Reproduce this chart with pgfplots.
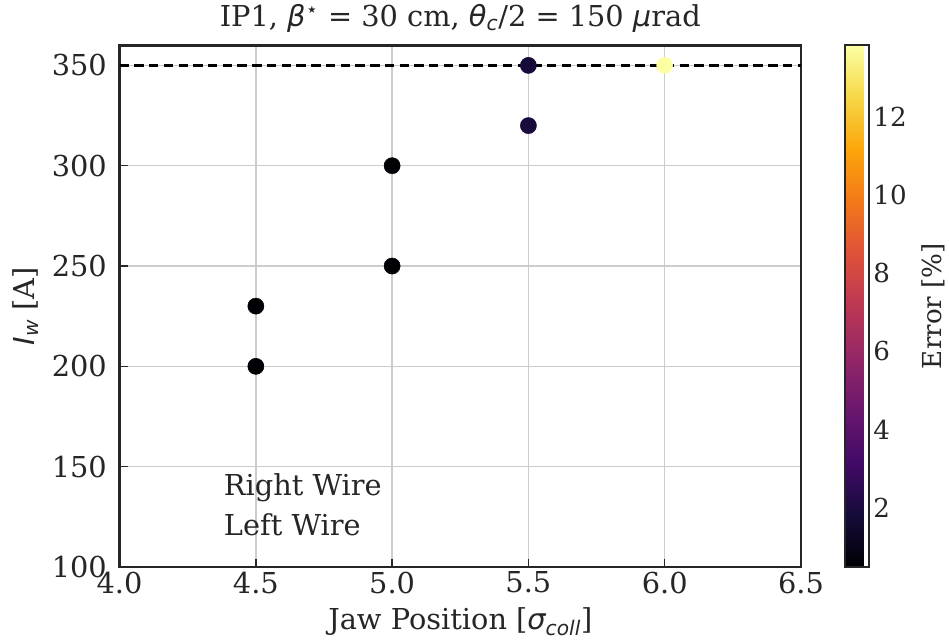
\documentclass[border=0pt]{standalone}
\usepackage{fontspec}
\setmainfont{DejaVu Serif}
\newfontfamily\msi{DejaVu Sans}[UprightFont=*-Oblique]
\newfontfamily\msans{DejaVu Sans}
\usepackage{pgfplots}
\pgfplotsset{compat=1.18}
\definecolor{txt}{HTML}{262626}
\definecolor{gridc}{HTML}{CCCCCC}
\pgfplotstableread{
x y e
4.5 200 0.49
4.5 230 0.49
5.0 250 0.49
5.0 300 0.49
5.5 320 1.9
5.5 350 1.8
6.0 350 13.82
}\datatab
\begin{document}
\begin{tikzpicture}[font=\fontsize{21.5}{25}\selectfont, text=txt]
\begin{axis}[
  name=main,
  scale only axis,
  width=508.5pt, height=389.25pt,
  xmin=4.0, xmax=6.5, ymin=100, ymax=360,
  xtick={4.0,4.5,5.0,5.5,6.0,6.5},
  ytick={100,150,...,350},
  xticklabel style={/pgf/number format/.cd, fixed, fixed zerofill, precision=1},
  yticklabel style={xshift=-6pt},
  /pgf/number format/assume math mode=true,
  tick align=inside,
  xtick pos=bottom, ytick pos=left,
  major tick length=6pt,
  tick style={txt, line width=1pt},
  axis line style={txt, line width=2pt},
  grid=major,
  major grid style={gridc, line width=1pt},
  title={IP1, {\msi β}\textsuperscript{\msans ⋆} = 30 cm, {\msi θ}\textsubscript{\msi c}/2 = 150 {\msi μ}rad},
  title style={yshift=0pt, font=\fontsize{21.5}{25}\selectfont},
  xlabel={Jaw Position [{\msi σ}\textsubscript{\msi coll}]},
  ylabel={{\msi I}\textsubscript{\msi w} [A]},
  xlabel style={yshift=-4pt},
  ylabel style={yshift=3pt},
  colormap={inferno}{rgb255=(0,0,4) rgb255=(22,11,57) rgb255=(66,10,104) rgb255=(106,23,110) rgb255=(147,38,103) rgb255=(188,55,84) rgb255=(221,81,58) rgb255=(243,120,25) rgb255=(252,165,10) rgb255=(246,215,70) rgb255=(252,255,164)},
  point meta min=0.49, point meta max=13.82,
  colorbar right,
  colorbar style={
    at={(parent axis.north east)}, anchor=north west, xshift=24pt,
    width=18pt,
    ytick={2,4,...,12},
    ytick pos=right,
    major tick length=0pt,
    axis line style={txt, line width=1.5pt},
    ylabel={Error [\%]},
    ylabel style={yshift=-4pt},
    font=\fontsize{19.5}{23}\selectfont,
    /pgf/number format/assume math mode=true,
  },
  legend style={draw=none, fill=none, at={(0.143,0.045)}, anchor=south west,
    row sep=8pt, font=\fontsize{21.5}{25}\selectfont, text=txt},
  legend cell align=left,
]
\addplot[scatter, only marks, mark=*, mark size=6pt,
  scatter/use mapped color={draw=mapped color, fill=mapped color},
  point meta=explicit, forget plot] table[x=x, y=y, meta=e] {\datatab};
\addplot[black, dashed, line width=1.8pt, dash pattern=on 7pt off 4pt, forget plot] coordinates {(4.0,350) (6.5,350)};
\addlegendimage{empty legend}
\addlegendentry{Right Wire}
\addlegendimage{empty legend}
\addlegendentry{Left Wire}
\end{axis}
\path ([xshift=-6pt]main.outer west);
\end{tikzpicture}
\end{document}
